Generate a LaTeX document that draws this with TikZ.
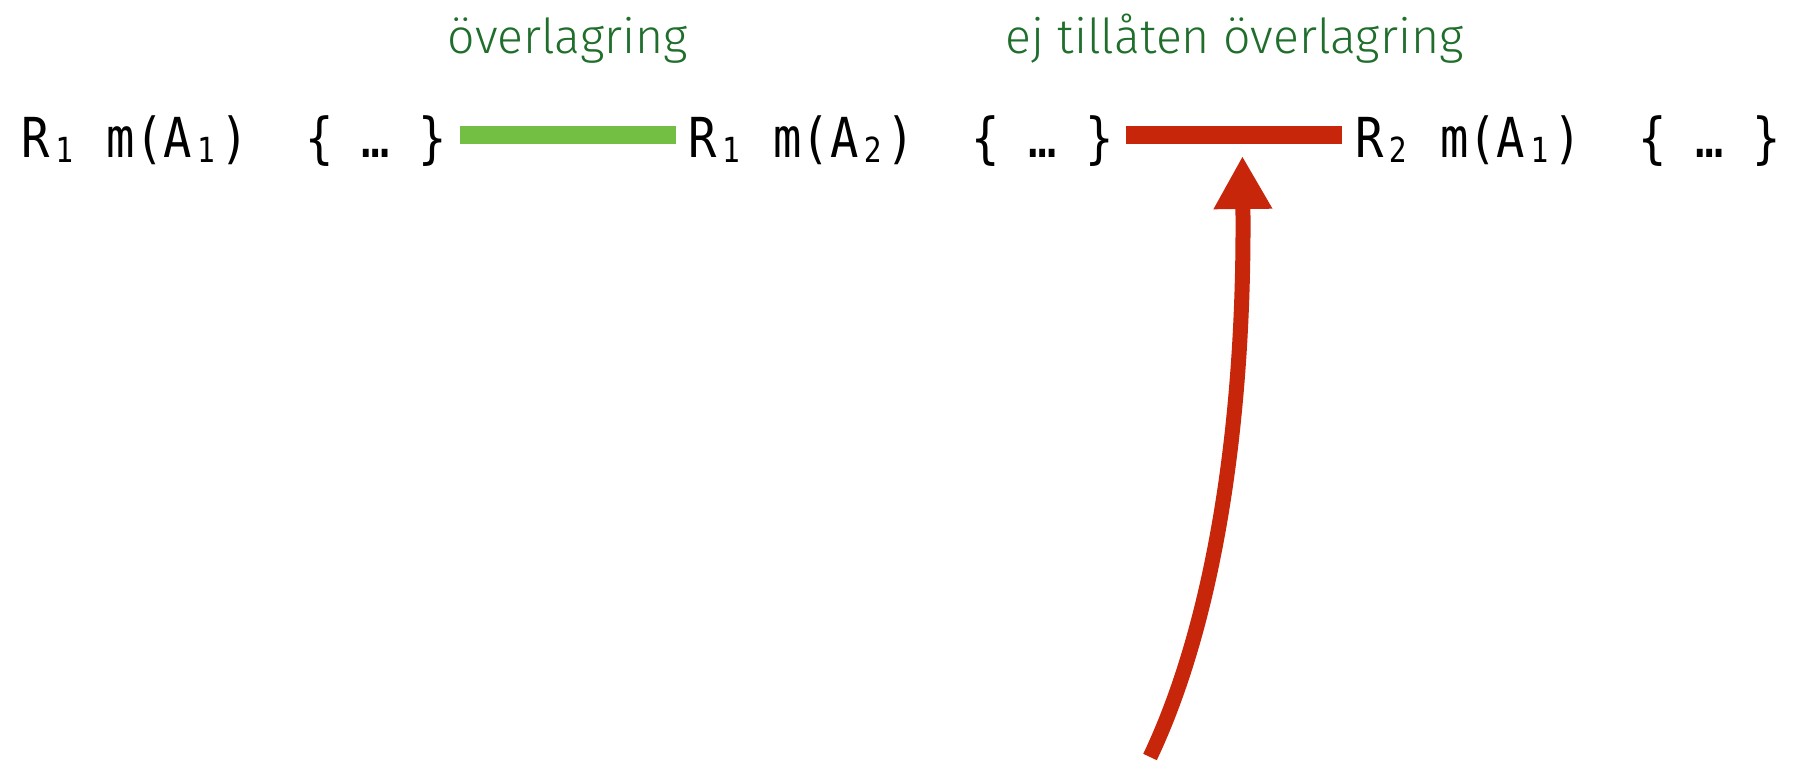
\documentclass[tikz,border=0pt]{standalone}
\usepackage{fontspec}
\usepackage{graphicx}
\setmonofont{DejaVu Sans Mono}
\newfontfamily\notefont{Fira Sans Light}
\usetikzlibrary{positioning,arrows.meta}
\definecolor{okgreen}{HTML}{72BF44}
\definecolor{badred}{HTML}{C8260A}
\definecolor{notegreen}{HTML}{1F6E2B}
\newcommand{\sig}[1]{\scalebox{1}[1.17]{\ttfamily\fontsize{13.4}{16}\selectfont #1}}
\newcommand{\sub}[1]{\makebox[0.602em][c]{\raisebox{-1.3pt}{\fontsize{8.4}{9}\selectfont #1}}}

\begin{document}
\begin{tikzpicture}[
  code/.style={inner xsep=0.12cm, inner ysep=0pt, anchor=base west},
  note/.style={text=notegreen, font=\notefont\fontsize{13.7}{16}\selectfont, inner sep=0pt, anchor=base, yshift=0.82cm},
  bar/.style={line width=1.8mm}]
\useasboundingbox (0,0) rectangle (18.02,7.61);
\coordinate (bar) at (0,6.26);
\node[code] (r1a1) at (0.09,6.04) {\sig{R\sub{1} m(A\sub{1})~~\{ … \}}};
\node[code, right=2.16cm of r1a1] (r1a2) {\sig{R\sub{1} m(A\sub{2})~~\{ … \}}};
\node[code, right=2.16cm of r1a2] (r2a1) {\sig{R\sub{2} m(A\sub{1})~~\{ … \}}};
\draw[bar, okgreen] (r1a1.east |- bar) -- node[note] {överlagring} (r1a2.west |- bar);
\draw[bar, badred] (r1a2.east |- bar) -- coordinate (clash) node[note] {ej tillåten överlagring} (r2a1.west |- bar);
\coordinate (start) at (11.50,0.04);
\draw[badred, line width=1.5mm, -{Triangle[length=5.3mm,width=5.5mm]}]
  (start) .. controls (12.15,1.41) and (12.45,3.41) .. ([xshift=0.08cm,yshift=-0.21cm]clash);
\end{tikzpicture}
\end{document}
